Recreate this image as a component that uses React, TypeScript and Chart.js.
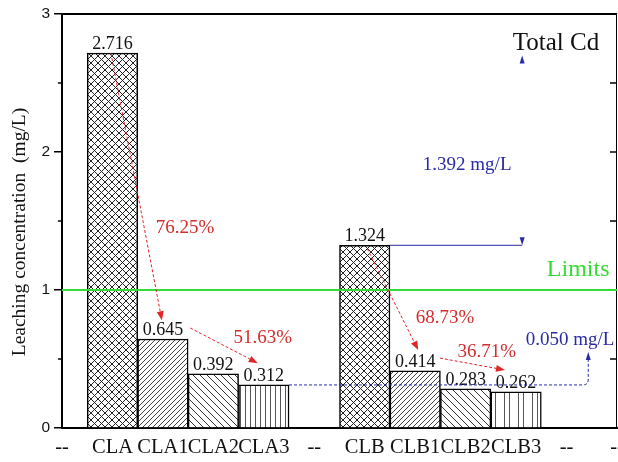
import React, { useEffect, useRef } from 'react';
import { Chart, registerables } from 'chart.js';

Chart.register(...registerables);

// Sample categories along the x axis ("--" are empty spacer slots)
const categories = ['--', 'CLA', 'CLA1', 'CLA2', 'CLA3', '--', 'CLB', 'CLB1', 'CLB2', 'CLB3', '--', '--'];
// Cd leaching concentration (mg/L) for each slot
const leaching = [null, 2.716, 0.645, 0.392, 0.312, null, 1.324, 0.414, 0.283, 0.262, null, null];
// Hatch style per bar
const hatchKinds = ['', 'cross', 'slash', 'backslash', 'vertical', '', 'cross', 'slash', 'backslash', 'verticalWide', '', ''];
const yMin = 0;
const yMax = 3;
const limitValue = 1;
const limitLabel = 'Limits';
const reductionLabels = ['76.25%', '51.63%', '68.73%', '36.71%'];
const totalGapLabel = '1.392 mg/L';
const stageGapLabel = '0.050 mg/L';
const panelLabel = 'Total Cd';
const yTitle = 'Leaching concentration  (mg/L)';

const SERIF = '"Liberation Serif", "Times New Roman", serif';
const SANS = '"Liberation Sans", Arial, sans-serif';
const RED = '#e02626';
const RED_TEXT = '#d42c2c';
const BLUE = '#2a2aa8';
const GREEN = '#33dd33';

function makeHatch(kind: string): CanvasPattern | string {
  if (!kind) return '#fff';
  const sizes: Record<string, number> = { cross: 7, slash: 5, backslash: 7, vertical: 5, verticalWide: 14 };
  const s = sizes[kind] ?? 6;
  const c = document.createElement('canvas');
  c.width = s;
  c.height = s;
  const g = c.getContext('2d')!;
  g.fillStyle = '#fff';
  g.fillRect(0, 0, s, s);
  g.lineWidth = 1;
  const diag = (dir: number, color: string) => {
    g.strokeStyle = color;
    for (let k = -1; k <= 1; k++) {
      g.beginPath();
      if (dir > 0) {
        g.moveTo(k * s, s);
        g.lineTo(k * s + s, 0);
      } else {
        g.moveTo(k * s, 0);
        g.lineTo(k * s + s, s);
      }
      g.stroke();
    }
  };
  if (kind === 'cross') {
    diag(1, '#222');
    diag(-1, '#222');
  } else if (kind === 'slash') {
    diag(1, '#444');
  } else if (kind === 'backslash') {
    diag(-1, '#333');
  } else if (kind === 'vertical') {
    g.strokeStyle = '#555';
    g.beginPath();
    g.moveTo(0.5, 0);
    g.lineTo(0.5, s);
    g.stroke();
  } else if (kind === 'verticalWide') {
    g.strokeStyle = '#555';
    g.beginPath();
    g.moveTo(0.5, 0);
    g.lineTo(0.5, s);
    g.moveTo(5.5, 0);
    g.lineTo(5.5, s);
    g.stroke();
  }
  return g.createPattern(c, 'repeat')!;
}

function drawArrow(
  ctx: CanvasRenderingContext2D,
  x0: number, y0: number, x1: number, y1: number,
  color: string, dash: number[], head = 9, half = 3.5,
) {
  const ang = Math.atan2(y1 - y0, x1 - x0);
  const bx = x1 - head * Math.cos(ang);
  const by = y1 - head * Math.sin(ang);
  ctx.save();
  ctx.strokeStyle = color;
  ctx.lineWidth = 1;
  ctx.setLineDash(dash);
  ctx.beginPath();
  ctx.moveTo(x0, y0);
  ctx.lineTo(bx, by);
  ctx.stroke();
  ctx.setLineDash([]);
  ctx.fillStyle = color;
  ctx.beginPath();
  ctx.moveTo(x1, y1);
  ctx.lineTo(bx + half * Math.sin(ang), by - half * Math.cos(ang));
  ctx.lineTo(bx - half * Math.sin(ang), by + half * Math.cos(ang));
  ctx.closePath();
  ctx.fill();
  ctx.restore();
}

function drawHead(ctx: CanvasRenderingContext2D, x: number, tipY: number, dir: number, color: string) {
  // dir = -1 points up, +1 points down
  ctx.save();
  ctx.fillStyle = color;
  ctx.beginPath();
  ctx.moveTo(x, tipY);
  ctx.lineTo(x - 2.5, tipY - dir * 8);
  ctx.lineTo(x + 2.5, tipY - dir * 8);
  ctx.closePath();
  ctx.fill();
  ctx.restore();
}

function text(ctx: CanvasRenderingContext2D, s: string, x: number, y: number, font: string, color: string) {
  ctx.save();
  ctx.font = font;
  ctx.fillStyle = color;
  ctx.textAlign = 'center';
  ctx.textBaseline = 'middle';
  ctx.fillText(s, x, y);
  ctx.restore();
}

const annotations = {
  id: 'annotations',
  afterDatasetsDraw(chart: any) {
    const { ctx, chartArea: a, scales } = chart;
    const xs = scales.x;
    const ys = scales.y;
    const X = (i: number) => xs.getPixelForValue(i);
    const Y = (v: number) => ys.getPixelForValue(v);

    ctx.save();
    // frame: top and right axes
    ctx.strokeStyle = '#000';
    ctx.lineWidth = 2;
    ctx.beginPath();
    ctx.moveTo(a.left, a.top);
    ctx.lineTo(a.right, a.top);
    ctx.stroke();
    ctx.lineWidth = 1;
    ctx.beginPath();
    ctx.moveTo(a.right - 0.5, a.top);
    ctx.lineTo(a.right - 0.5, a.bottom);
    ctx.stroke();
    // minor ticks on the left, inward ticks on the right
    ctx.lineWidth = 1.5;
    for (let v = yMin + 0.5; v < yMax; v += 1) {
      ctx.beginPath();
      ctx.moveTo(a.left - 4, Y(v));
      ctx.lineTo(a.left, Y(v));
      ctx.stroke();
    }
    for (let v = yMin + 0.5; v < yMax; v += 0.5) {
      ctx.beginPath();
      ctx.moveTo(a.right - 7, Y(v));
      ctx.lineTo(a.right, Y(v));
      ctx.stroke();
    }
    ctx.restore();

    // regulatory limit
    ctx.save();
    ctx.strokeStyle = GREEN;
    ctx.lineWidth = 2;
    ctx.beginPath();
    ctx.moveTo(a.left, Y(limitValue));
    ctx.lineTo(a.right, Y(limitValue));
    ctx.stroke();
    ctx.restore();
    text(ctx, limitLabel, X(10.23), Y(limitValue) - 20, `24px ${SERIF}`, GREEN);

    // bar values
    ctx.save();
    ctx.font = `18px ${SERIF}`;
    ctx.fillStyle = '#111';
    ctx.textAlign = 'center';
    ctx.textBaseline = 'alphabetic';
    leaching.forEach((v, i) => {
      if (v == null) return;
      ctx.fillText(v.toFixed(3), X(i), Y(v) - 4);
    });
    ctx.restore();

    // reduction arrows between treatment stages
    const redDash = [3, 2];
    drawArrow(ctx, X(0.97), Y(leaching[1] as number), X(1.98), Y(0.78), RED, redDash);
    drawArrow(ctx, X(2.54), Y(0.725), X(3.88), Y(0.47), RED, redDash);
    drawArrow(ctx, X(6.05), Y(1.3), X(7.06), Y(0.565), RED, redDash);
    drawArrow(ctx, X(7.49), Y(0.507), X(8.78), Y(0.42), RED, redDash);
    const pctFont = `19px ${SERIF}`;
    text(ctx, reductionLabels[0], X(2.44), Y(1.45), pctFont, RED_TEXT);
    text(ctx, reductionLabels[1], X(3.98), Y(0.654), pctFont, RED_TEXT);
    text(ctx, reductionLabels[2], X(7.59), Y(0.8), pctFont, RED_TEXT);
    text(ctx, reductionLabels[3], X(8.42), Y(0.55), pctFont, RED_TEXT);

    // gap between CLA and CLB totals
    const gx = X(9.12);
    ctx.save();
    ctx.strokeStyle = BLUE;
    ctx.lineWidth = 1;
    ctx.beginPath();
    ctx.moveTo(X(6.5), Y(leaching[6] as number));
    ctx.lineTo(gx, Y(leaching[6] as number));
    ctx.stroke();
    ctx.restore();
    drawHead(ctx, gx, Y(leaching[6] as number), 1, BLUE);
    drawHead(ctx, gx, Y(2.7), -1, BLUE);
    text(ctx, totalGapLabel, X(8.03), Y(1.906), `19px ${SERIF}`, BLUE);
    text(ctx, panelLabel, X(9.79), Y(2.79), `25px ${SERIF}`, '#111');

    // gap between CLA3 and CLB3
    const ly = Y(leaching[4] as number);
    const cx = X(10.43);
    ctx.save();
    ctx.strokeStyle = BLUE;
    ctx.lineWidth = 1;
    ctx.setLineDash([3, 2]);
    ctx.beginPath();
    ctx.moveTo(X(4.5), ly);
    ctx.lineTo(cx - 5, ly);
    ctx.quadraticCurveTo(cx, ly, cx, ly - 6);
    ctx.lineTo(cx, Y(0.55) + 7);
    ctx.stroke();
    ctx.restore();
    drawHead(ctx, cx, Y(0.55), -1, BLUE);
    text(ctx, stageGapLabel, X(10.07), Y(0.638), `19px ${SERIF}`, BLUE);

    // y-axis title
    ctx.save();
    ctx.translate(20, (a.top + a.bottom) / 2 + 11);
    ctx.rotate(-Math.PI / 2);
    ctx.font = `19.5px ${SERIF}`;
    ctx.fillStyle = '#111';
    ctx.textAlign = 'center';
    ctx.textBaseline = 'middle';
    ctx.fillText(yTitle, 0, 0);
    ctx.restore();
  },
};

export default function App() {
  const ref = useRef<HTMLCanvasElement | null>(null);

  useEffect(() => {
    if (!ref.current) return;
    const fills = hatchKinds.map(makeHatch);
    const chart = new Chart(ref.current, {
      type: 'bar',
      data: {
        labels: categories,
        datasets: [
          {
            data: leaching as any,
            backgroundColor: fills as any,
            borderColor: '#000',
            borderWidth: 1.5,
            barPercentage: 1,
            categoryPercentage: 1,
          },
        ],
      },
      options: {
        responsive: false,
        animation: false,
        devicePixelRatio: 1,
        layout: { padding: { top: 14, right: 1, left: 0, bottom: 0 } },
        plugins: { legend: { display: false }, tooltip: { enabled: false } },
        scales: {
          x: {
            type: 'category',
            offset: false,
            grid: { display: false, drawTicks: false },
            border: { display: true, color: '#000', width: 2 },
            ticks: {
              autoSkip: false,
              maxRotation: 0,
              padding: 7,
              color: '#111',
              font: { family: SERIF, size: 20.5 },
            },
            afterFit: (s: any) => {
              s.height = 34;
              s.paddingLeft = 0;
              s.paddingRight = 0;
            },
          },
          y: {
            min: yMin,
            max: yMax,
            grid: { display: true, drawOnChartArea: false, drawTicks: true, tickLength: 8, color: '#000', lineWidth: 1.5 },
            border: { display: true, color: '#000', width: 2 },
            ticks: {
              stepSize: 1,
              padding: 4,
              color: '#111',
              font: { family: SANS, size: 15.5 },
            },
            afterFit: (s: any) => {
              s.width = 62;
              s.paddingTop = 0;
              s.paddingBottom = 0;
            },
          },
        },
      },
      plugins: [annotations],
    });
    return () => chart.destroy();
  }, []);

  return (
    <canvas
      ref={ref}
      width={618}
      height={462}
      style={{ position: 'absolute', left: 0, top: 0, width: 618, height: 462 }}
    />
  );
}
